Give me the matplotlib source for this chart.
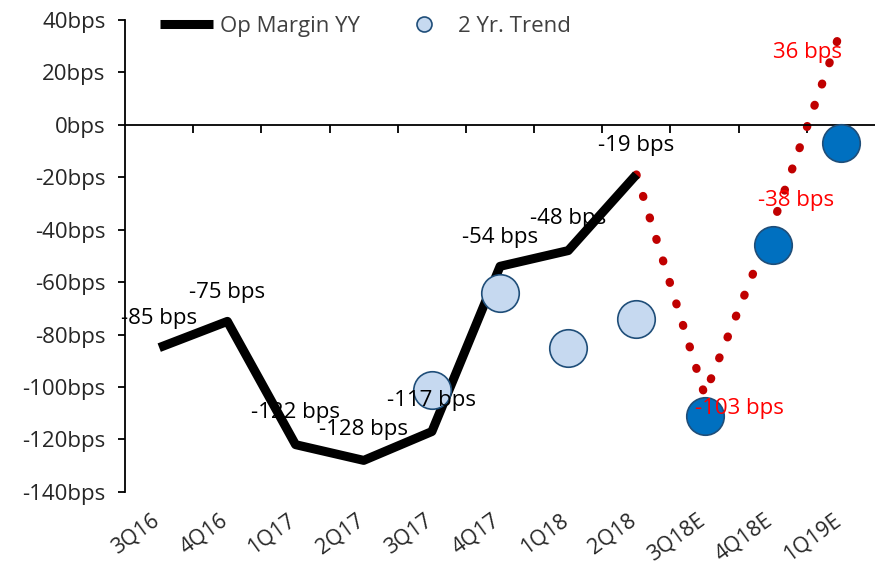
import matplotlib.pyplot as plt
import matplotlib.transforms as mtransforms
import numpy as np

plt.rcParams['font.family'] = ['Open Sans', 'DejaVu Sans']

quarters = ["3Q16", "4Q16", "1Q17", "2Q17", "3Q17", "4Q17", "1Q18", "2Q18",
            "3Q18E", "4Q18E", "1Q19E"]
op_margin = [-85, -75, -122, -128, -117, -54, -48, -19]
estimate_idx = [7, 8, 9, 10]
estimate = [-19, -103, -38, 36]
trend_hist_idx = [4, 5, 6, 7]
trend_hist = [-101, -64, -85, -74]
trend_est_idx = [8, 9, 10]
trend_est = [-111, -46, -7]

# label offsets in points (dx, dy)
op_offsets = [(0, 21), (0, 21), (0, 23), (0, 22), (0, 22), (0, 21), (0, 23), (0, 21)]
est_labels = ["-103 bps", "-38 bps", "36 bps"]
est_offsets = [(25, -10), (17, 17), (-24, -16)]

FS = 16

x = np.arange(len(quarters))

fig = plt.figure(figsize=(8.75, 5.66), dpi=100)
ax = fig.add_axes([0.143, 0.131, 0.857, 0.834])

ax.plot(x[estimate_idx], estimate, color='#C00000', linestyle=(0, (0.1, 2.6)),
        linewidth=6, dash_capstyle='round', zorder=2)
ax.plot(x[:len(op_margin)], op_margin, color='black', linewidth=6.5,
        solid_capstyle='butt', zorder=3, label='Op Margin YY')
ax.plot(x[trend_hist_idx], trend_hist, 'o', markersize=27,
        markerfacecolor='#C6D9F0', markeredgecolor='#1F4E79',
        markeredgewidth=1.2, zorder=4, label='2 Yr. Trend')
ax.plot(x[trend_est_idx], trend_est, 'o', markersize=27,
        markerfacecolor='#0070C0', markeredgecolor='#1F4E79',
        markeredgewidth=1.2, zorder=4)

for i, v in enumerate(op_margin):
    ax.annotate(f"{v} bps", (x[i], v), xytext=op_offsets[i],
                textcoords='offset points', ha='center', va='center',
                fontsize=FS, color='black', zorder=5)
for k, lab in enumerate(est_labels):
    i = estimate_idx[k + 1]
    ax.annotate(lab, (x[i], estimate[k + 1]), xytext=est_offsets[k],
                textcoords='offset points', ha='center', va='center',
                fontsize=FS, color='#FF0000', zorder=5)

ax.set_xlim(-0.5, len(quarters) - 0.5)
ax.set_ylim(-140, 40)
ax.set_yticks(np.arange(-140, 41, 20))
ax.set_yticklabels([f"{v}bps" for v in range(-140, 41, 20)], fontsize=FS,
                   color='#262626')

ax.spines['top'].set_visible(False)
ax.spines['right'].set_visible(False)
ax.spines['bottom'].set_position(('data', 0))
ax.spines['left'].set_linewidth(1.3)
ax.spines['bottom'].set_linewidth(1.3)
ax.tick_params(axis='y', direction='out', length=5, width=1.3, pad=9)
ax.tick_params(axis='x', direction='out', length=6, width=1.3, labelbottom=False)
ax.set_xticks(x[:-1] + 0.5)

trans = mtransforms.blended_transform_factory(ax.transData, ax.transAxes)
for i, q in enumerate(quarters):
    ax.text(x[i] + 0.06, -0.038, q, transform=trans, rotation=36,
            ha='right', va='top', fontsize=15.5, color='#262626')

ax.legend(loc='upper left', bbox_to_anchor=(0.02, 1.05), ncol=2, frameon=False,
          fontsize=FS, handlelength=2.4, handletextpad=0.3, columnspacing=1.7,
          markerscale=0.4, labelcolor='#404040')

fig.savefig('out.png', dpi=100)
